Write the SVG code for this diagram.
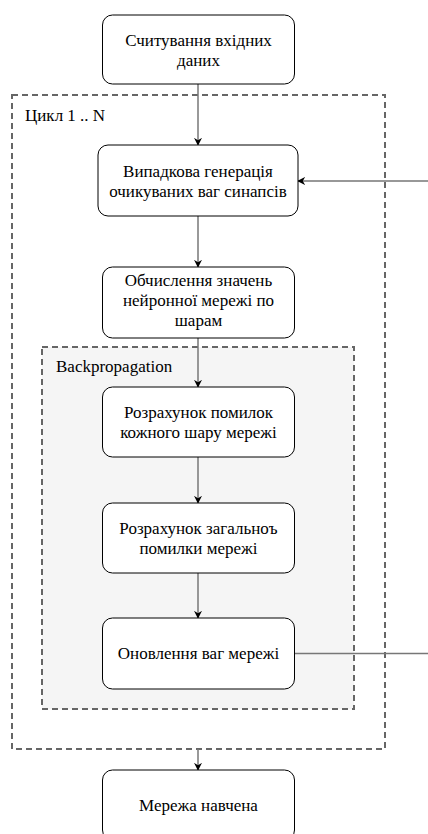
<svg xmlns="http://www.w3.org/2000/svg" width="428" height="834" viewBox="0 0 428 834">
<style>
.node rect{fill:#ffffff;stroke:#000000;stroke-width:1}
.txt{font-size:17px;fill:#000000;text-anchor:middle}
.lbl{font-size:17px;fill:#000000}
.grp{stroke:#666666;stroke-width:2;stroke-dasharray:6 4}
.conn{fill:none;stroke:#777777;stroke-width:1.5}
</style>
<defs>
<marker id="arr" viewBox="0 0 10 10" refX="9" refY="5" markerWidth="8" markerHeight="8" markerUnits="userSpaceOnUse" orient="auto">
<path d="M0,0 L10,5 L0,10 L3,5 Z" fill="#000000"/>
</marker>
</defs>
<g font-family="Liberation Serif, Times New Roman, DejaVu Serif, serif">
<g id="loop">
<rect class="grp" x="12" y="95" width="373" height="654" fill="#ffffff"/>
<text class="lbl" x="25" y="121">Цикл 1 .. N</text>
</g>
<g id="backprop">
<rect class="grp" x="42" y="347" width="312" height="362" fill="#f5f5f5"/>
<text class="lbl" x="56" y="372">Backpropagation</text>
</g>
<g id="connectors">
<path class="conn" d="M198 84 V145" marker-end="url(#arr)"/>
<path class="conn" d="M198 216 V267" marker-end="url(#arr)"/>
<path class="conn" d="M198 338 V387" marker-end="url(#arr)"/>
<path class="conn" d="M198 457 V503" marker-end="url(#arr)"/>
<path class="conn" d="M198 573 V618" marker-end="url(#arr)"/>
<path class="conn" d="M198 749 V770" marker-end="url(#arr)"/>
<path class="conn" d="M294 653.5 H440 V181 H298" marker-end="url(#arr)"/>
</g>
<g id="n1" class="node">
<rect x="102.5" y="15" width="192" height="69" rx="10"/>
<text class="txt" x="198.5" y="46">Считування вхідних</text>
<text class="txt" x="198.5" y="66">даних</text>
</g>
<g id="n2" class="node">
<rect x="98" y="145" width="200" height="71" rx="10"/>
<text class="txt" x="198" y="177">Випадкова генерація</text>
<text class="txt" x="198" y="197">очикуваних ваг синапсів</text>
</g>
<g id="n3" class="node">
<rect x="102.5" y="267" width="192" height="71" rx="10"/>
<text class="txt" x="198.5" y="286">Обчислення значень</text>
<text class="txt" x="198.5" y="306">нейронної мережі по</text>
<text class="txt" x="198.5" y="326">шарам</text>
</g>
<g id="n4" class="node">
<rect x="102.5" y="387" width="192" height="70" rx="10"/>
<text class="txt" x="198.5" y="418">Розрахунок помилок</text>
<text class="txt" x="198.5" y="438">кожного шару мережі</text>
</g>
<g id="n5" class="node">
<rect x="102.5" y="503" width="192" height="70" rx="10"/>
<text class="txt" x="198.5" y="534">Розрахунок загальноъ</text>
<text class="txt" x="198.5" y="554">помилки мережі</text>
</g>
<g id="n6" class="node">
<rect x="102.5" y="618" width="192" height="71" rx="10"/>
<text class="txt" x="198.5" y="659">Оновлення ваг мережі</text>
</g>
<g id="n7" class="node">
<rect x="102.5" y="770" width="192" height="70" rx="10"/>
<text class="txt" x="198.5" y="811">Мережа навчена</text>
</g>
</g>
</svg>
